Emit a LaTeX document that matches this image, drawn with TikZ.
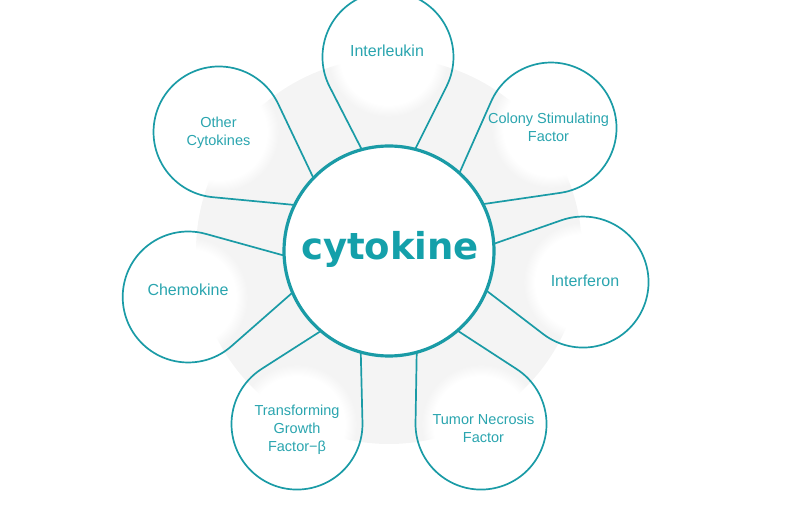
\documentclass[tikz,border=0pt]{standalone}
\usepackage{fontspec}
\setmainfont{Liberation Sans}
\newfontfamily\cytofont{DejaVu Sans}
\usetikzlibrary{fadings}
\definecolor{tealline}{HTML}{1A9BA6}
\definecolor{tealtext}{HTML}{2AA5AF}
\definecolor{tealbig}{HTML}{14A0AA}
\definecolor{bggray}{HTML}{F4F4F4}
\tikzset{
  petalline/.style={draw=tealline, line width=1.7pt, line join=round},
  lab/.style={text=tealtext, font=\fontsize{16}{19}\selectfont, inner sep=0pt},
  labtwo/.style={text=tealtext, font=\fontsize{14.5}{18}\selectfont, align=center, inner sep=0pt},
  blob/.style={white, path fading=circle with fuzzy edge 20 percent}
}
\begin{document}
\begin{tikzpicture}[x=1pt,y=1pt]
\useasboundingbox (0,0) rectangle (800,509);
\clip (0,0) rectangle (800,509);
\coordinate (c0) at (389,258);
\fill[bggray] (c0) circle (193);
\foreach \px/\py in {388/452, 551/381, 583/227, 481/85, 297/85, 188/212, 219/377}
  \fill[blob] (\px,\py) circle (60);
\foreach \th/\be/\d in {90.3/14.7/194, 37.2/10.7/203.4, -9.1/13/196.5, -62/12.7/196, -118/12.4/196, -167.1/10.4/206, 145/9/207.5}{
  \begin{scope}[shift={(c0)}, rotate=\th]
    \pgfmathsetmacro\ax{105*cos(\be)}
    \pgfmathsetmacro\ay{105*sin(\be)}
    \pgfmathsetmacro\LL{sqrt((\d-\ax)^2+(\ay)^2)}
    \pgfmathsetmacro\pS{atan2(\ay,\ax-\d)}
    \pgfmathsetmacro\ph{\pS-acos(65.5/\LL)}
    \pgfmathsetmacro\tx{\d+65.5*cos(\ph)}
    \pgfmathsetmacro\ty{65.5*sin(\ph)}
    \draw[petalline] (\ax,\ay) -- (\tx,\ty) arc[start angle=\ph, end angle=-\ph, radius=65.5] -- (\ax,-\ay);
  \end{scope}
}
\node[circle, draw=tealline, line width=3.2pt, fill=white, minimum size=210pt, inner sep=0pt] (core) at (c0) {};
\node[anchor=base, text=tealbig, font=\cytofont\bfseries\fontsize{37}{40}\selectfont, inner sep=0pt] (ctext) at (390,249) {cytokine};
\node[lab, anchor=base] (l1) at (387,452.3) {Interleukin};
\node[labtwo] (l2) at (548.5,382) {Colony Stimulating\\Factor};
\node[lab, anchor=base] (l3) at (585,222.3) {Interferon};
\node[labtwo] (l4) at (483.5,81) {Tumor Necrosis\\Factor};
\node[labtwo] (l5) at (297,79.5) {Transforming\\Growth\\Factor−β};
\node[lab, anchor=base] (l6) at (188,213.3) {Chemokine};
\node[labtwo] (l7) at (218.5,376.5) {Other\\Cytokines};
\end{tikzpicture}
\end{document}
